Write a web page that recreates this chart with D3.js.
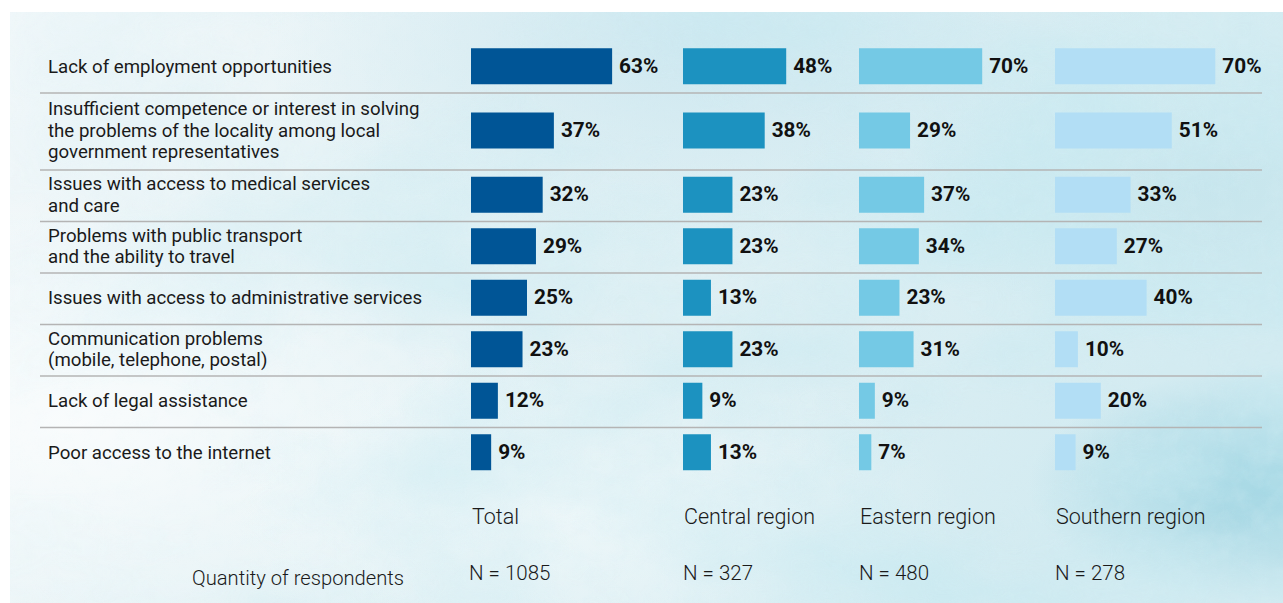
<!DOCTYPE html>
<html>
<head>
<meta charset="utf-8">
<script src="https://cdn.jsdelivr.net/npm/d3@7"></script>
<style>
  html, body { margin: 0; padding: 0; background: #ffffff; }
  svg { display: block; }
</style>
</head>
<body>
<svg id="chart" width="1283" height="603"></svg>
<script>
// Reasons reported as problems of the locality, share of respondents (%)
const categories = [
  "Lack of employment opportunities",
  "Insufficient competence or interest in solving\nthe problems of the locality among local\ngovernment representatives",
  "Issues with access to medical services\nand care",
  "Problems with public transport\nand the ability to travel",
  "Issues with access to administrative services",
  "Communication problems\n(mobile, telephone, postal)",
  "Lack of legal assistance",
  "Poor access to the internet"
];
const regions = ["Total", "Central region", "Eastern region", "Southern region"];
const totalValues    = [63, 37, 32, 29, 25, 23, 12, 9];
const centralValues  = [48, 38, 23, 23, 13, 23, 9, 13];
const easternValues  = [70, 29, 37, 34, 23, 31, 9, 7];
const southernValues = [70, 51, 33, 27, 40, 10, 20, 9];
const respondents = [1085, 327, 480, 278];
const respondentsLabel = "Quantity of respondents";

const series = [totalValues, centralValues, easternValues, southernValues];
const colors = ["#005596", "#1c92c0", "#74c9e5", "#b2def5"];

const svg = d3.select("#chart");
const defs = svg.append("defs");

// ---- watercolour backdrop ----
const base = defs.append("linearGradient").attr("id", "bgBase")
  .attr("x1", 0).attr("y1", 0).attr("x2", 1).attr("y2", 0.3);
[[0, "#f3f8fa"], [0.35, "#e7f3f6"], [0.6, "#e0f0f4"], [1, "#d3ebf1"]]
  .forEach(([o, c]) => base.append("stop").attr("offset", o).attr("stop-color", c));

const wash = defs.append("filter").attr("id", "wash")
  .attr("x", 0).attr("y", 0).attr("width", "100%").attr("height", "100%");
wash.append("feTurbulence").attr("type", "fractalNoise")
  .attr("baseFrequency", "0.0035 0.006").attr("numOctaves", 5).attr("seed", 11);
wash.append("feColorMatrix").attr("type", "matrix")
  .attr("values", "0 0 0 0 0.58  0 0 0 0 0.82  0 0 0 0 0.88  2.4 0 0 0 -0.9");

const grain = defs.append("filter").attr("id", "grain")
  .attr("x", 0).attr("y", 0).attr("width", "100%").attr("height", "100%");
grain.append("feTurbulence").attr("type", "fractalNoise")
  .attr("baseFrequency", "0.06").attr("numOctaves", 3).attr("seed", 4);
grain.append("feColorMatrix").attr("type", "matrix")
  .attr("values", "0 0 0 0 0.66  0 0 0 0 0.85  0 0 0 0 0.9  1.2 0 0 0 -0.5");

const fade = defs.append("linearGradient").attr("id", "fadeGrad")
  .attr("x1", 0).attr("y1", 0).attr("x2", 1).attr("y2", 0);
[[0, 0.15], [0.3, 0.55], [0.7, 0.85], [1, 1]]
  .forEach(([o, a]) => fade.append("stop").attr("offset", o).attr("stop-color", "#fff").attr("stop-opacity", a));
defs.append("mask").attr("id", "fadeMask")
  .append("rect").attr("x", 0).attr("y", 0).attr("width", 1283).attr("height", 603)
  .attr("fill", "url(#fadeGrad)");

const spots = [
  { id: "spotTop", cx: 0.55, cy: 0.05, r: 0.35, c: "#cae6ef", a: 0.85 },
  { id: "spotRight", cx: 1.0, cy: 0.8, r: 0.2, c: "#8fcddd", a: 0.9 },
  { id: "spotRightTop", cx: 0.95, cy: 0.3, r: 0.25, c: "#c1e3eb", a: 0.7 },
  { id: "spotLeft", cx: 0.05, cy: 0.7, r: 0.4, c: "#ffffff", a: 0.7 },
  { id: "spotMidLow", cx: 0.45, cy: 0.85, r: 0.3, c: "#f6fbfc", a: 0.6 }
];
spots.forEach(s => {
  const g = defs.append("radialGradient").attr("id", s.id)
    .attr("cx", s.cx).attr("cy", s.cy).attr("r", s.r);
  g.append("stop").attr("offset", 0).attr("stop-color", s.c).attr("stop-opacity", s.a);
  g.append("stop").attr("offset", 1).attr("stop-color", s.c).attr("stop-opacity", 0);
});

const bg = svg.append("g");
const bgX = 10, bgY = 12, bgW = 1273, bgH = 591;
bg.append("rect").attr("x", bgX).attr("y", bgY).attr("width", bgW).attr("height", bgH).attr("fill", "url(#bgBase)");
spots.forEach(s => bg.append("rect").attr("x", bgX).attr("y", bgY).attr("width", bgW).attr("height", bgH)
  .attr("fill", `url(#${s.id})`));
bg.append("rect").attr("x", bgX).attr("y", bgY).attr("width", bgW).attr("height", bgH)
  .attr("filter", "url(#wash)").attr("mask", "url(#fadeMask)").attr("opacity", 0.8);
bg.append("rect").attr("x", bgX).attr("y", bgY).attr("width", bgW).attr("height", bgH)
  .attr("filter", "url(#grain)").attr("mask", "url(#fadeMask)").attr("opacity", 0.4);

// ---- layout ----
const labelX = 48;
const lineHeight = 21.5;
const ruleX0 = 40, ruleX1 = 1262;
const barH = 36;
const columns = [
  { x: 471, w: 224 },
  { x: 683, w: 215 },
  { x: 859, w: 176 },
  { x: 1055, w: 229 }
];
const scales = columns.map(c => d3.scaleLinear().domain([0, 100]).range([0, c.w]));
const fontStack = "Roboto, 'Liberation Sans', sans-serif";

// row bands: taller band for the three-line label
const rows = [];
let yCursor = 41.5;
categories.forEach((cat, i) => {
  const lines = cat.split("\n");
  const h = lines.length > 2 ? 77 : 51.5;
  rows.push({ cat, lines, y0: yCursor, y1: yCursor + h, mid: yCursor + h / 2, i });
  yCursor += h;
});

// separators between rows
svg.append("g").selectAll("line")
  .data(rows.slice(0, -1))
  .join("line")
  .attr("x1", ruleX0).attr("x2", ruleX1)
  .attr("y1", d => d.y1).attr("y2", d => d.y1)
  .attr("stroke", "#b4b4b4").attr("stroke-width", 1.6);

// category labels
const labelG = svg.append("g")
  .attr("transform", `translate(${labelX},0) scale(1.02,1)`)
  .attr("font-family", fontStack)
  .attr("font-size", 18.3).attr("fill", "#1a1a1a");
rows.forEach(r => {
  const t = labelG.append("text").attr("x", 0);
  const top = r.mid - 1 - (r.lines.length - 1) * lineHeight / 2;
  r.lines.forEach((ln, k) => {
    t.append("tspan").attr("x", 0).attr("y", top + k * lineHeight)
      .attr("dy", "0.35em").text(ln);
  });
});

// bars and value labels
series.forEach((vals, ci) => {
  const col = columns[ci], sx = scales[ci];
  const g = svg.append("g");
  g.selectAll("rect")
    .data(vals)
    .join("rect")
    .attr("x", col.x)
    .attr("y", (d, i) => rows[i].mid - 1 - barH / 2)
    .attr("width", d => sx(d))
    .attr("height", barH)
    .attr("fill", colors[ci]);
  g.selectAll("text")
    .data(vals)
    .join("text")
    .attr("x", d => col.x + sx(d) + 7)
    .attr("y", (d, i) => rows[i].mid - 2)
    .attr("dy", "0.35em")
    .attr("font-family", fontStack)
    .attr("font-weight", 700)
    .attr("font-size", 20.8)
    .attr("fill", "#111")
    .text(d => d + "%");
});

// column headers and sample sizes
const footG = svg.append("g")
  .attr("font-family", fontStack)
  .attr("font-weight", 300).attr("fill", "#1a1a1a");
footG.selectAll("text.region")
  .data(regions)
  .join("text").attr("class", "region")
  .attr("x", (d, i) => columns[i].x + 1)
  .attr("y", 524)
  .attr("font-size", 21.5)
  .text(d => d);
footG.selectAll("text.n")
  .data(respondents)
  .join("text").attr("class", "n")
  .attr("x", (d, i) => columns[i].x - (i === 0 ? 2 : 0))
  .attr("y", 580)
  .attr("font-size", 20.5)
  .text(d => "N = " + d);
footG.append("text")
  .attr("x", 192).attr("y", 585)
  .attr("font-size", 20.2)
  .text(respondentsLabel);
</script>
</body>
</html>
